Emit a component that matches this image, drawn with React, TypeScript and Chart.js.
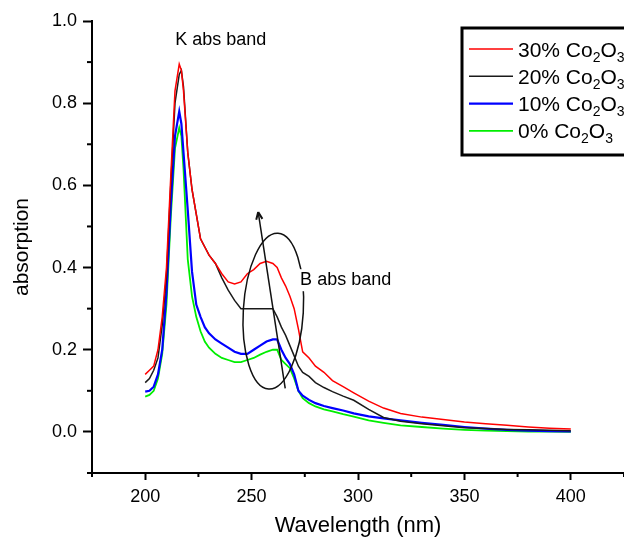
import React, { useEffect, useRef } from "react";
import { Chart, registerables } from "chart.js";

Chart.register(...registerables);

// ---- data ----
const wavelengths = [200, 202, 204, 206, 208, 210, 212, 214, 216, 217, 218, 220, 222, 224, 226, 228, 230, 233, 236, 239, 242, 245, 248, 251, 254, 257, 260, 262, 264, 266, 268, 270, 272, 274, 277, 280, 284, 288, 293, 298, 305, 312, 320, 330, 340, 350, 360, 370, 380, 390, 400];

const absorption30 = [0.14, 0.15, 0.16, 0.2, 0.28, 0.4, 0.62, 0.83, 0.895, 0.88, 0.83, 0.68, 0.59, 0.53, 0.47, 0.45, 0.43, 0.41, 0.385, 0.365, 0.36, 0.365, 0.385, 0.395, 0.41, 0.415, 0.41, 0.4, 0.375, 0.355, 0.33, 0.3, 0.25, 0.195, 0.18, 0.16, 0.145, 0.125, 0.11, 0.095, 0.075, 0.058, 0.045, 0.036, 0.03, 0.024, 0.02, 0.016, 0.012, 0.009, 0.007];

const absorption20 = [0.12, 0.13, 0.15, 0.18, 0.26, 0.38, 0.6, 0.8, 0.87, 0.88, 0.84, 0.68, 0.59, 0.53, 0.47, 0.45, 0.43, 0.41, 0.375, 0.345, 0.32, 0.3, 0.3, 0.3, 0.3, 0.3, 0.3, 0.28, 0.255, 0.235, 0.21, 0.185, 0.16, 0.145, 0.135, 0.12, 0.108, 0.098, 0.087, 0.077, 0.055, 0.035, 0.026, 0.02, 0.015, 0.01, 0.008, 0.006, 0.005, 0.004, 0.003];

const absorption10 = [0.098, 0.1, 0.11, 0.14, 0.2, 0.34, 0.55, 0.72, 0.78, 0.75, 0.68, 0.54, 0.39, 0.31, 0.28, 0.255, 0.24, 0.225, 0.215, 0.205, 0.195, 0.19, 0.19, 0.2, 0.21, 0.22, 0.225, 0.225, 0.2, 0.18, 0.165, 0.14, 0.1, 0.088, 0.078, 0.07, 0.063, 0.058, 0.052, 0.045, 0.038, 0.033, 0.028, 0.022, 0.017, 0.012, 0.008, 0.005, 0.003, 0.002, 0.001];

const absorption0 = [0.086, 0.09, 0.1, 0.13, 0.19, 0.31, 0.52, 0.69, 0.74, 0.72, 0.64, 0.42, 0.33, 0.28, 0.245, 0.22, 0.205, 0.19, 0.18, 0.175, 0.17, 0.17, 0.175, 0.18, 0.188, 0.195, 0.2, 0.2, 0.175, 0.165, 0.155, 0.13, 0.1, 0.082, 0.07, 0.062, 0.055, 0.05, 0.043, 0.037, 0.028, 0.022, 0.016, 0.012, 0.008, 0.005, 0.003, 0.002, 0.001, 0.001, 0.0];

const seriesLabels = ["30% Co₂O₃", "20% Co₂O₃", "10% Co₂O₃", "0% Co₂O₃"];
const seriesColors = ["#ff0000", "#1a1a1a", "#0000ff", "#00ee00"];
const seriesWidths = [1.5, 1.5, 2.2, 1.8];

const xMajorTicks = [200, 250, 300, 350, 400];
const xMinorTicks = [175, 225, 275, 325, 375, 425];
const yMajorTicks = [0, 0.2, 0.4, 0.6, 0.8, 1.0];
const yMinorTicks = [-0.1, 0.1, 0.3, 0.5, 0.7, 0.9];

// annotations (data units)
const kLabel = { text: "K abs band", x: 214.1, y: 0.942 };
const bLabel = { text: "B abs band", x: 272.8, y: 0.357 };
const bandEllipse = { cx: 260.2, cy: 0.294, rx: 14.1, ry: 0.19, rot: 0.06 };
const pointer = { x1: 253.1, y1: 0.535, x2: 265.8, y2: 0.106 };

const FONT = "'Liberation Sans', Arial, sans-serif";

const seriesValues = [absorption30, absorption20, absorption10, absorption0];

const decorPlugin = {
  id: "decor",
  afterDraw(chart: any) {
    const ctx: CanvasRenderingContext2D = chart.ctx;
    const xs = chart.scales.x;
    const ys = chart.scales.y;
    const ca = chart.chartArea;
    ctx.save();
    // minor ticks
    ctx.strokeStyle = "#000";
    ctx.lineWidth = 2;
    xMinorTicks.forEach((v) => {
      const px = xs.getPixelForValue(v);
      ctx.beginPath();
      ctx.moveTo(px, ca.bottom);
      ctx.lineTo(px, ca.bottom + 4);
      ctx.stroke();
    });
    yMinorTicks.forEach((v) => {
      const py = ys.getPixelForValue(v);
      ctx.beginPath();
      ctx.moveTo(ca.left, py);
      ctx.lineTo(ca.left - 5, py);
      ctx.stroke();
    });

    // ellipse
    const ecx = xs.getPixelForValue(bandEllipse.cx);
    const ecy = ys.getPixelForValue(bandEllipse.cy);
    const erx = Math.abs(xs.getPixelForValue(bandEllipse.cx + bandEllipse.rx) - ecx);
    const ery = Math.abs(ys.getPixelForValue(bandEllipse.cy + bandEllipse.ry) - ecy);
    ctx.strokeStyle = "#111";
    ctx.lineWidth = 1.5;
    ctx.beginPath();
    ctx.ellipse(ecx, ecy, erx, ery, bandEllipse.rot, 0, Math.PI * 2);
    ctx.stroke();

    // pointer line with arrowhead
    const px1 = xs.getPixelForValue(pointer.x1);
    const py1 = ys.getPixelForValue(pointer.y1);
    const px2 = xs.getPixelForValue(pointer.x2);
    const py2 = ys.getPixelForValue(pointer.y2);
    ctx.beginPath();
    ctx.moveTo(px2, py2);
    ctx.lineTo(px1, py1);
    ctx.stroke();
    const ang = Math.atan2(py1 - py2, px1 - px2);
    ctx.lineWidth = 2;
    ctx.beginPath();
    ctx.moveTo(px1, py1);
    ctx.lineTo(px1 - 8 * Math.cos(ang - 0.4), py1 - 8 * Math.sin(ang - 0.4));
    ctx.moveTo(px1, py1);
    ctx.lineTo(px1 - 8 * Math.cos(ang + 0.4), py1 - 8 * Math.sin(ang + 0.4));
    ctx.stroke();

    // labels
    ctx.font = `18px ${FONT}`;
    ctx.textBaseline = "alphabetic";
    ctx.textAlign = "left";
    const bx = xs.getPixelForValue(bLabel.x);
    const by = ys.getPixelForValue(bLabel.y);
    const bw = ctx.measureText(bLabel.text).width;
    ctx.fillStyle = "#fff";
    ctx.fillRect(bx - 2, by - 16, bw + 4, 22);
    ctx.fillStyle = "#000";
    ctx.fillText(bLabel.text, bx, by);
    ctx.fillText(kLabel.text, xs.getPixelForValue(kLabel.x), ys.getPixelForValue(kLabel.y));

    // legend
    const lx = ca.left + 370;
    const ly = ca.top + 7;
    ctx.fillStyle = "#fff";
    ctx.fillRect(lx, ly, 200, 127);
    ctx.strokeStyle = "#000";
    ctx.lineWidth = 3;
    ctx.strokeRect(lx, ly, 200, 127);
    const subMap: Record<string, string> = { "₂": "2", "₃": "3" };
    chart.data.datasets.forEach((ds: any, i: number) => {
      const rowY = ly + 21 + i * 27.3;
      ctx.strokeStyle = ds.borderColor;
      ctx.lineWidth = ds.borderWidth;
      ctx.beginPath();
      ctx.moveTo(lx + 7, rowY);
      ctx.lineTo(lx + 51, rowY);
      ctx.stroke();
      let tx = lx + 56;
      const base = rowY + 7.5;
      ctx.fillStyle = "#000";
      for (const ch of ds.label as string) {
        if (subMap[ch]) {
          ctx.font = `14px ${FONT}`;
          ctx.fillText(subMap[ch], tx, base + 5);
          tx += ctx.measureText(subMap[ch]).width;
        } else {
          ctx.font = `21px ${FONT}`;
          ctx.fillText(ch, tx, base);
          tx += ctx.measureText(ch).width;
        }
      }
    });
    ctx.restore();
  },
};

export default function App() {
  const canvasRef = useRef<HTMLCanvasElement | null>(null);

  useEffect(() => {
    if (!canvasRef.current) return;
    const datasets = seriesValues
      .map((vals, i) => ({
        label: seriesLabels[i],
        data: wavelengths.map((w, j) => ({ x: w, y: vals[j] })),
        borderColor: seriesColors[i],
        backgroundColor: seriesColors[i],
        borderWidth: seriesWidths[i],
        pointRadius: 0,
        tension: 0,
        fill: false,
        order: i,
      }));

    const chart = new Chart(canvasRef.current, {
      type: "line",
      data: { datasets },
      options: {
        animation: false,
        responsive: false,
        devicePixelRatio: 1,
        layout: { padding: { top: 21, right: 0, left: 0, bottom: 0 } },
        plugins: { legend: { display: false }, tooltip: { enabled: false } },
        scales: {
          x: {
            type: "linear",
            min: 175,
            max: 425,
            afterBuildTicks: (s: any) => {
              s.ticks = xMajorTicks.map((v) => ({ value: v }));
            },
            afterFit: (s: any) => {
              s.height = 64;
            },
            ticks: {
              color: "#000",
              font: { family: FONT, size: 18 },
              padding: 6,
              maxRotation: 0,
              callback: (v: any) => String(v),
            },
            grid: {
              drawOnChartArea: false,
              drawTicks: true,
              tickLength: 7,
              tickWidth: 2,
              tickColor: "#000",
            },
            border: { display: true, color: "#000", width: 2 },
            title: {
              display: true,
              text: "Wavelength (nm)",
              color: "#000",
              font: { family: FONT, size: 22 },
              padding: { top: 0, bottom: -2 },
            },
          },
          y: {
            type: "linear",
            min: -0.1,
            max: 1.0,
            afterBuildTicks: (s: any) => {
              s.ticks = yMajorTicks.map((v) => ({ value: v }));
            },
            afterFit: (s: any) => {
              s.width = 92;
            },
            ticks: {
              color: "#000",
              font: { family: FONT, size: 18 },
              padding: 6,
              callback: (v: any) => Number(v).toFixed(1),
            },
            grid: {
              drawOnChartArea: false,
              drawTicks: true,
              tickLength: 9,
              tickWidth: 2,
              tickColor: "#000",
            },
            border: { display: true, color: "#000", width: 2 },
            title: {
              display: true,
              text: "absorption",
              color: "#000",
              font: { family: FONT, size: 21 },
              padding: { top: 10, bottom: 0 },
            },
          },
        },
      },
      plugins: [decorPlugin],
    });
    return () => chart.destroy();
  }, []);

  return (
    <div style={{ position: "absolute", left: 0, top: 0, width: 624, height: 537, background: "#fff" }}>
      <canvas ref={canvasRef} width={624} height={537} style={{ display: "block" }} />
    </div>
  );
}
